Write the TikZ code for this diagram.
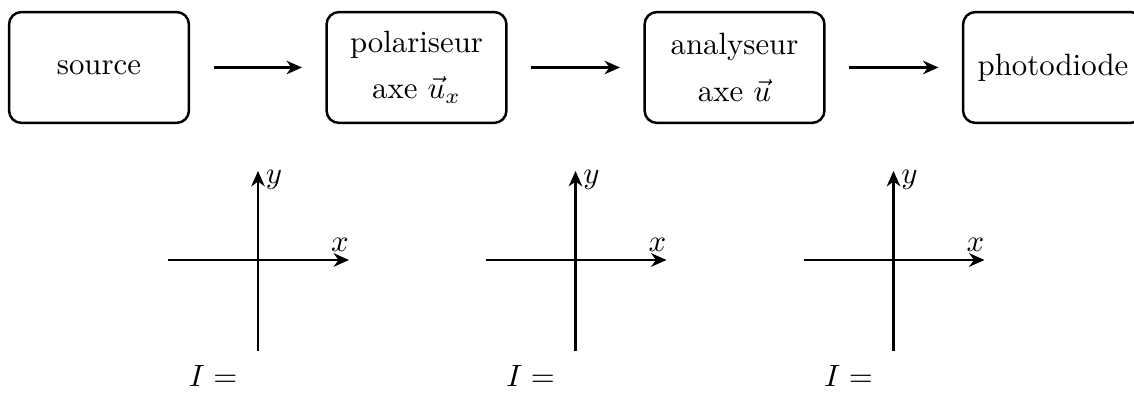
\documentclass[tikz,border=0pt]{standalone}
\usetikzlibrary{arrows.meta}
\begin{document}
\begin{tikzpicture}[x=0.3247pt, y=-0.3247pt,
  block/.style={draw, thick, rounded corners=4pt, minimum width=58.4pt, minimum height=36pt, align=center, inner sep=2pt},
  flow/.style={thick, -{Stealth[length=5pt,width=4.4pt,inset=1.6pt]}, shorten <=7.6pt, shorten >=7.6pt},
  axis/.style={thick, -{Stealth[length=5pt,width=4.4pt,inset=1.6pt]}},
  axlabel/.style={anchor=base, inner sep=0pt}
]
\useasboundingbox (0,0) rectangle (1134,399);
\clip (0,0) rectangle (1134,399);

\node[block] (src) at (99,67.5) {source};
\node[block] (pol) at (416.5,67.5) {polariseur\\[3pt]axe $\vec{u}_x$};
\node[block] (ana) at (734.5,67.5) {analyseur\\[3pt]axe $\vec{u}$};
\node[block] (pd) at (1053,67.5) {photodiode};

\draw[flow] (src) -- (pol);
\draw[flow] (pol) -- (ana);
\draw[flow] (ana) -- (pd);

\foreach \cx/\n in {258/a, 575.5/b, 893.5/c}{
  \coordinate (o\n) at (\cx,260);
  \coordinate (l\n) at (\cx-90,260);
  \coordinate (r\n) at (\cx+91,260);
  \coordinate (t\n) at (\cx,171);
  \coordinate (b\n) at (\cx,351);
  \draw[axis] (l\n) -- (r\n);
  \draw[axis] (b\n) -- (t\n);
  \node[axlabel] (x\n) at (\cx+82,252) {$x$};
  \node[axlabel] (y\n) at (\cx+16,184) {$y$};
  \node[axlabel] (I\n) at (\cx-45,387) {$I =$};
}
\end{tikzpicture}
\end{document}
